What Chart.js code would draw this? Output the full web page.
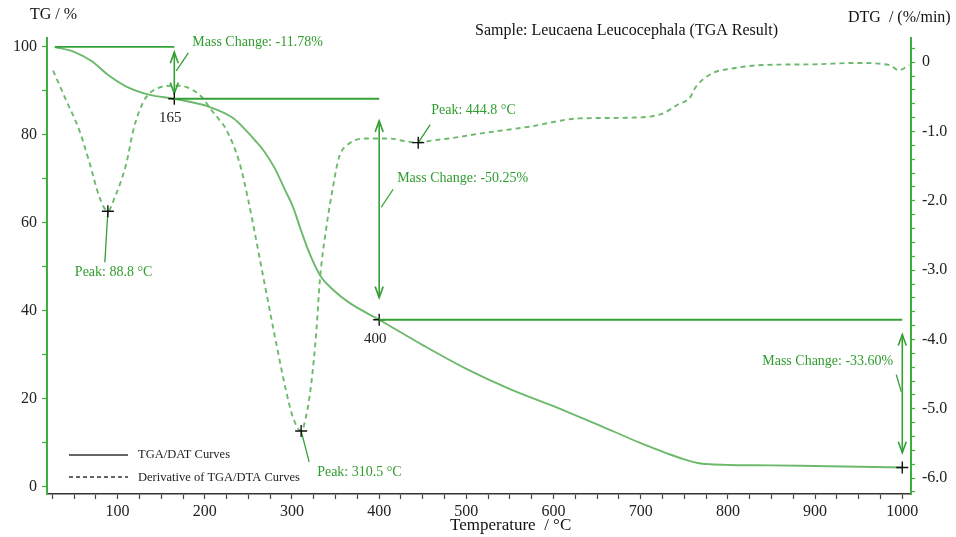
<!DOCTYPE html>
<html>
<head>
<meta charset="utf-8">
<script src="https://cdn.jsdelivr.net/npm/chart.js@4.4.1/dist/chart.umd.min.js"></script>
<style>
  html, body { margin: 0; padding: 0; background: #ffffff; }
  #wrap { width: 956px; height: 537px; }
</style>
</head>
<body>
<div id="wrap"><canvas id="c" width="956" height="537"></canvas></div>
<script>
// TG curve: temperature (°C) and residual mass (%)
const tgTemp = [28, 50, 70, 90, 110, 137, 165, 205, 232, 247, 257, 268, 280, 292, 301, 310, 320, 333, 347, 366, 400,
                450, 500, 550, 600, 650, 700, 730, 750, 765, 780, 800, 850, 900, 950, 1000];
const tgMass = [100, 98.9, 96.8, 93.5, 91.0, 89.1, 88.22, 86.4, 83.9, 81.1, 78.9, 76.3, 72.5, 67.5, 63.7, 58.5, 53.1, 47.8, 44.8, 41.8, 37.97,
                32.2, 26.8, 22.2, 18.3, 14.2, 9.9, 7.6, 6.2, 5.4, 5.1, 4.95, 4.85, 4.7, 4.55, 4.37];

// DTG curve: temperature (°C) and rate of mass change (%/min)
const dtgTemp = [26, 41, 56, 68, 79, 88.8, 97, 110, 118, 125, 133, 145, 160, 172, 186, 198, 207, 216, 225, 240, 249, 259, 270, 282, 293, 301,
                 310.5, 316, 322, 328, 332, 339, 347, 354, 366, 385, 410, 430, 444.8, 460, 480, 515, 572, 630, 687, 725, 744, 756, 763, 782,
                 805, 840, 897, 947, 985, 996, 1008];
const dtgRate = [-0.12, -0.55, -0.98, -1.46, -1.94, -2.15, -1.94, -1.46, -0.98, -0.70, -0.50, -0.38, -0.34, -0.34, -0.40, -0.52, -0.68, -0.82, -0.98, -1.46, -1.94, -2.57, -3.29, -4.06, -4.73, -5.12,
                 -5.32, -5.12, -4.65, -3.87, -3.14, -2.42, -1.80, -1.37, -1.17, -1.10, -1.10, -1.14, -1.16, -1.13, -1.10, -1.03, -0.93, -0.81, -0.80, -0.74, -0.60, -0.52, -0.36, -0.16,
                 -0.09, -0.04, -0.03, -0.01, -0.04, -0.115, -0.04];

// Mass-change steps: end temperature of each step and its mass change (%)
const stepTemps = [165, 400, 1000];
const stepChanges = [-11.78, -50.25, -33.60];

// DTG peaks (°C)
const peakTemps = [88.8, 310.5, 444.8];

// Axis ticks
const tempTicks = [];
for (let t = 25; t <= 1000; t += 25) tempTicks.push(t);
const tgTicks = [0, 10, 20, 30, 40, 50, 60, 70, 80, 90, 100];
const dtgTicks = [];
for (let k = -31; k <= 1; k++) dtgTicks.push(k / 5);

const GREEN_AXIS = '#3fae3f';
const GREEN_LINE = '#6cb96c';
const GREEN_MARK = '#35a035';
const GREEN_TEXT = '#2f9c2f';
const SERIF = '"Liberation Serif", "Times New Roman", serif';

// Mass levels after each step
const levels = [tgMass[0]];
stepChanges.forEach(c => levels.push(+(levels[levels.length - 1] + c).toFixed(2)));

function drawCross(ctx, px, py) {
  ctx.save();
  ctx.strokeStyle = '#111';
  ctx.lineWidth = 1.4;
  ctx.beginPath();
  ctx.moveTo(px - 6, py); ctx.lineTo(px + 6, py);
  ctx.moveTo(px, py - 6); ctx.lineTo(px, py + 6);
  ctx.stroke();
  ctx.restore();
}

function arrowHead(ctx, px, py, dir) {
  // open V head; dir = -1 points up, +1 points down
  ctx.beginPath();
  ctx.moveTo(px - 4, py - dir * 11);
  ctx.lineTo(px, py);
  ctx.lineTo(px + 4, py - dir * 11);
  ctx.stroke();
}

const annotations = {
  id: 'tgaAnnotations',
  afterDraw(chart) {
    const { ctx, chartArea: a } = chart;
    const x = chart.scales.x, yL = chart.scales.yL, yR = chart.scales.yR;
    ctx.save();

    // Step baselines, arrows and labels
    let prevT = tgTemp[0];
    stepTemps.forEach((t, i) => {
      const px = x.getPixelForValue(t);
      const pPrev = x.getPixelForValue(prevT);
      const yTop = yL.getPixelForValue(levels[i]);
      const yBot = yL.getPixelForValue(levels[i + 1]);

      ctx.strokeStyle = GREEN_MARK;
      ctx.lineWidth = 1.8;
      ctx.beginPath();
      ctx.moveTo(pPrev, yTop); ctx.lineTo(px, yTop);
      ctx.stroke();

      const inset = (yBot - yTop) * 0.1;
      const a1 = yTop + inset, a2 = yBot - inset;
      ctx.lineWidth = 1.6;
      ctx.beginPath();
      ctx.moveTo(px, a1); ctx.lineTo(px, a2);
      ctx.stroke();
      arrowHead(ctx, px, a1, -1);
      arrowHead(ctx, px, a2, 1);

      const midY = (a1 + a2) / 2;
      const txt = 'Mass Change: ' + stepChanges[i].toFixed(2) + '%';
      ctx.font = '14px ' + SERIF;
      ctx.fillStyle = GREEN_TEXT;
      ctx.textBaseline = 'middle';
      ctx.lineWidth = 1.3;
      ctx.beginPath();
      if (px > a.right - 150) {
        ctx.moveTo(px - 1, midY - 2); ctx.lineTo(px - 6, midY - 19);
        ctx.stroke();
        ctx.textAlign = 'right';
        ctx.fillText(txt, px - 9, midY - 32);
      } else {
        ctx.moveTo(px + 2, midY - 2); ctx.lineTo(px + 14, midY - 20);
        ctx.stroke();
        ctx.textAlign = 'left';
        ctx.fillText(txt, px + 18, midY - 31);
      }

      drawCross(ctx, px, yBot);
      if (i < stepTemps.length - 1) {
        ctx.fillStyle = '#222';
        ctx.textAlign = 'center';
        ctx.font = '15px ' + SERIF;
        ctx.fillText(String(t), px - 4, yBot + 19);
      }
      prevT = t;
    });

    // DTG peak markers and labels
    const leaders = [[-3, 51, -33, 61], [8, 31, 16, 41], [12, -18, 13, -32]];
    peakTemps.forEach((t, i) => {
      const v = dtgRate[dtgTemp.indexOf(t)];
      const px = x.getPixelForValue(t), py = yR.getPixelForValue(v);
      const [lx, ly, tx, ty] = leaders[i];
      ctx.strokeStyle = GREEN_MARK;
      ctx.lineWidth = 1.3;
      ctx.beginPath();
      ctx.moveTo(px, py); ctx.lineTo(px + lx, py + ly);
      ctx.stroke();
      drawCross(ctx, px, py);
      ctx.font = '14px ' + SERIF;
      ctx.fillStyle = GREEN_TEXT;
      ctx.textAlign = 'left';
      ctx.textBaseline = 'middle';
      ctx.fillText('Peak: ' + t.toFixed(1) + ' °C', px + tx, py + ty);
    });

    // Legend
    const lgX = a.left + 22;
    ctx.strokeStyle = '#333';
    ctx.lineWidth = 1.3;
    ctx.beginPath();
    ctx.moveTo(lgX, 455); ctx.lineTo(lgX + 59, 455);
    ctx.stroke();
    ctx.setLineDash([4, 3]);
    ctx.beginPath();
    ctx.moveTo(lgX, 477); ctx.lineTo(lgX + 59, 477);
    ctx.stroke();
    ctx.setLineDash([]);
    ctx.fillStyle = '#222';
    ctx.font = '12.5px ' + SERIF;
    ctx.textAlign = 'left';
    ctx.textBaseline = 'middle';
    ctx.fillText('TGA/DAT Curves', lgX + 69, 455);
    ctx.fillText('Derivative of TGA/DTA Curves', lgX + 69, 478);

    // Titles
    ctx.fillStyle = '#111';
    ctx.font = '16px ' + SERIF;
    ctx.fillText('TG / %', 30, 15);
    ctx.fillText('DTG  / (%/min)', 848, 18);
    ctx.fillText('Sample: Leucaena Leucocephala (TGA Result)', 475, 31);
    ctx.font = '17px ' + SERIF;
    ctx.fillText('Temperature  / °C', 450, 526);

    ctx.restore();
  }
};

const tickFont = { family: SERIF, size: 16 };

new Chart(document.getElementById('c'), {
  type: 'line',
  data: {
    datasets: [
      {
        label: 'TGA/DAT Curves',
        data: tgTemp.map((t, i) => ({ x: t, y: tgMass[i] })),
        yAxisID: 'yL',
        borderColor: GREEN_LINE,
        borderWidth: 1.9,
        pointRadius: 0,
        cubicInterpolationMode: 'monotone',
        fill: false
      },
      {
        label: 'Derivative of TGA/DTA Curves',
        data: dtgTemp.map((t, i) => ({ x: t, y: dtgRate[i] })),
        yAxisID: 'yR',
        borderColor: GREEN_LINE,
        borderWidth: 1.9,
        borderDash: [5, 4],
        pointRadius: 0,
        cubicInterpolationMode: 'monotone',
        fill: false
      }
    ]
  },
  options: {
    responsive: false,
    animation: false,
    devicePixelRatio: 1,
    layout: { padding: { top: 38, left: 0, right: 0, bottom: 0 } },
    plugins: { legend: { display: false }, tooltip: { enabled: false } },
    scales: {
      x: {
        type: 'linear',
        min: 19, max: 1010,
        afterBuildTicks: s => { s.ticks = tempTicks.map(v => ({ value: v })); },
        afterFit: s => { s.height = 43; },
        ticks: {
          autoSkip: false, maxRotation: 0, padding: 3,
          color: '#222', font: tickFont,
          callback: v => (v % 100 === 0 ? String(v) : '')
        },
        grid: { drawOnChartArea: false, tickLength: 5, tickColor: '#444', tickWidth: 1.2 },
        border: { color: '#333', width: 1.6 }
      },
      yL: {
        type: 'linear', position: 'left',
        min: -1.66, max: 102.04,
        afterBuildTicks: s => { s.ticks = tgTicks.map(v => ({ value: v })); },
        afterFit: s => { s.width = 47; },
        ticks: {
          autoSkip: false, padding: 5,
          color: '#222', font: tickFont,
          callback: v => (v % 20 === 0 ? String(v) : '')
        },
        grid: { drawOnChartArea: false, tickLength: 5, tickColor: GREEN_AXIS, tickWidth: 1.2 },
        border: { color: GREEN_AXIS, width: 2 }
      },
      yR: {
        type: 'linear', position: 'right',
        min: -6.23, max: 0.35,
        afterBuildTicks: s => { s.ticks = dtgTicks.map(v => ({ value: v })); },
        afterFit: s => { s.width = 45; },
        ticks: {
          autoSkip: false, padding: 7,
          color: '#222', font: tickFont,
          callback: v => {
            if (Math.abs(v - Math.round(v)) > 1e-6) return '';
            return Math.round(v) === 0 ? '0' : v.toFixed(1);
          }
        },
        grid: { drawOnChartArea: false, tickLength: 4, tickColor: GREEN_AXIS, tickWidth: 1.2 },
        border: { color: GREEN_AXIS, width: 2 }
      }
    }
  },
  plugins: [annotations]
});
</script>
</body>
</html>
